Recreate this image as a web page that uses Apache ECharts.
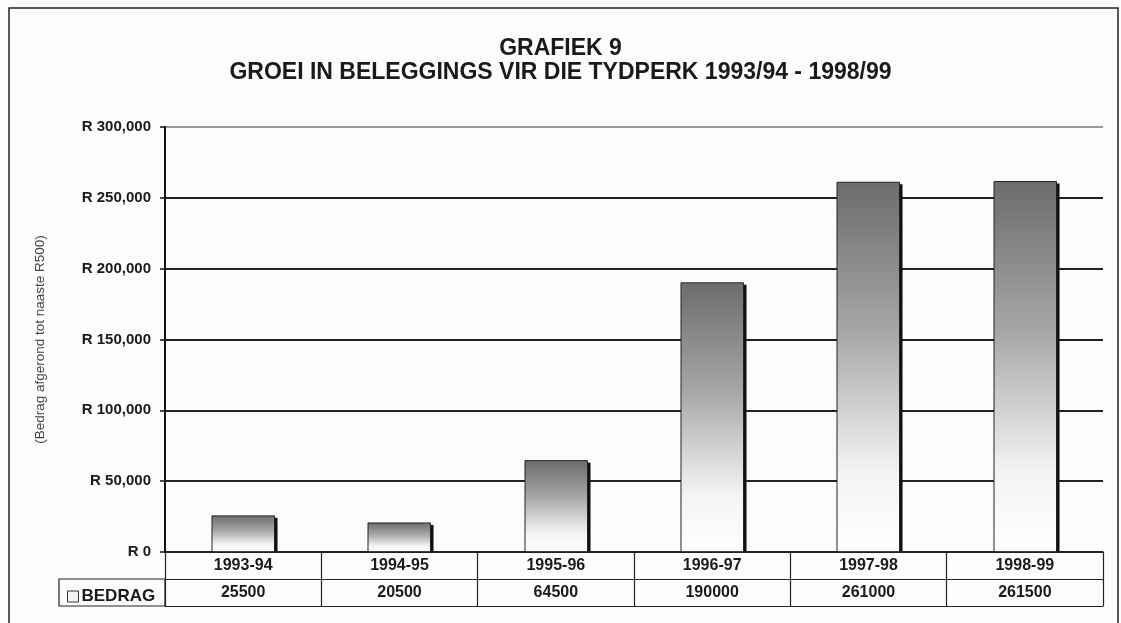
<!DOCTYPE html>
<html>
<head>
<meta charset="utf-8">
<script src="https://cdn.jsdelivr.net/npm/echarts@6/dist/echarts.min.js"></script>
<style>
html,body{margin:0;padding:0;background:#fcfcfc;}
#c{width:1121px;height:623px;}
</style>
</head>
<body>
<div id="c"></div>
<script>
var titleLines = ['GRAFIEK 9', 'GROEI IN BELEGGINGS VIR DIE TYDPERK 1993/94 - 1998/99'];
var categories = ['1993-94', '1994-95', '1995-96', '1996-97', '1997-98', '1998-99'];
var bedrag = [25500, 20500, 64500, 190000, 261000, 261500];
var seriesName = 'BEDRAG';
var yAxisName = '(Bedrag afgerond tot naaste R500)';
var yMin = 0, yMax = 300000, yStep = 50000;

var FONT = '"Liberation Sans", Arial, sans-serif';
var chart = echarts.init(document.getElementById('c'));

function fmtR(v){ return 'R ' + String(v).replace(/\B(?=(\d{3})+(?!\d))/g, ','); }

var barGradient = new echarts.graphic.LinearGradient(0, 0, 0, 1, [
  { offset: 0, color: '#6c6c6c' },
  { offset: 0.4, color: '#a6a6a6' },
  { offset: 0.78, color: '#f3f3f3' },
  { offset: 1, color: '#ffffff' }
]);

function renderBar(params, api) {
  var idx = api.value(0);
  var val = api.value(1);
  var top = api.coord([idx, val]);
  var base = api.coord([idx, 0]);
  var bw = api.size([1, 0])[0] * 0.4;
  var x = Math.round(top[0] - bw / 2);
  var y = top[1];
  var h = base[1] - top[1];
  return {
    type: 'group',
    children: [
      { type: 'rect', shape: { x: x + bw - 1, y: y + 2, width: 4, height: h - 2 }, style: { fill: '#111' } },
      { type: 'rect', shape: { x: x, y: y, width: bw, height: h },
        style: { fill: barGradient, stroke: '#222', lineWidth: 1 } }
    ]
  };
}

var option = {
  backgroundColor: '#fcfcfc',
  animation: false,
  title: {
    text: titleLines.join('\n'),
    left: 'center',
    top: 32,
    textStyle: { fontFamily: FONT, fontSize: 23, fontWeight: 'bold', color: '#1a1a1a', lineHeight: 24 }
  },
  legend: {
    data: [seriesName],
    left: 62, top: 583,
    icon: 'rect',
    itemWidth: 11, itemHeight: 11,
    itemGap: 4,
    itemStyle: { color: '#f4f4f4', borderColor: '#333', borderWidth: 1 },
    textStyle: { fontFamily: FONT, fontSize: 17, fontWeight: 'bold', color: '#1a1a1a', padding: [0,0,0,-2] },
    selectedMode: false
  },
  grid: { left: 165, right: 18, top: 127, bottom: 71, containLabel: false },
  xAxis: [
    {
      type: 'category', data: categories, position: 'bottom', boundaryGap: true,
      axisLine: { show: true, lineStyle: { color: '#222', width: 1.5 } },
      axisTick: { show: true, length: 54, interval: 0, lineStyle: { color: '#222', width: 1.2 } },
      axisLabel: { margin: 6, interval: 0, fontFamily: FONT, fontSize: 16, fontWeight: 'bold', color: '#1a1a1a' },
      z: 5
    },
    {
      type: 'category', data: categories, position: 'bottom', offset: 27, boundaryGap: true,
      axisLine: { show: true, lineStyle: { color: '#222', width: 1.2 } },
      axisTick: { show: false },
      axisLabel: { margin: 6, interval: 0, fontFamily: FONT, fontSize: 16, fontWeight: 'bold', color: '#1a1a1a',
        formatter: function(v, i){ return String(bedrag[i]); } }
    },
    {
      type: 'category', data: categories, position: 'bottom', offset: 54, boundaryGap: true,
      axisLine: { show: true, lineStyle: { color: '#222', width: 1.2 } },
      axisTick: { show: false },
      axisLabel: { show: false }
    }
  ],
  yAxis: {
    type: 'value', min: yMin, max: yMax, interval: yStep,
    name: yAxisName, nameLocation: 'middle', nameGap: 118, nameRotate: 90,
    nameTextStyle: { fontFamily: FONT, fontSize: 13.5, color: '#444' },
    axisLine: { show: true, lineStyle: { color: '#111', width: 2 } },
    axisTick: { show: true, length: 5, lineStyle: { color: '#111', width: 1.5 } },
    axisLabel: { margin: 14, fontFamily: FONT, fontSize: 15, fontWeight: 'bold', color: '#1a1a1a', formatter: fmtR },
    splitLine: { show: true, lineStyle: { color: ['#222','#222','#222','#222','#222','#222','#9a9a9a'], width: 2 } }
  },
  series: [{
    name: seriesName, type: 'custom', renderItem: renderBar,
    data: bedrag.map(function(v, i){ return [i, v]; }),
    encode: { x: 0, y: 1 },
    itemStyle: { color: '#f4f4f4', borderColor: '#333' },
    z: 3
  }],
  graphic: [
    { type: 'rect', shape: { x: 9, y: 8, width: 1109, height: 640 }, style: { fill: 'none', stroke: '#222', lineWidth: 1.5 }, silent: true },
    { type: 'rect', shape: { x: 59, y: 579, width: 106, height: 27 }, style: { fill: 'none', stroke: '#222', lineWidth: 1.2 }, silent: true }
  ]
};
chart.setOption(option);
</script>
</body>
</html>
